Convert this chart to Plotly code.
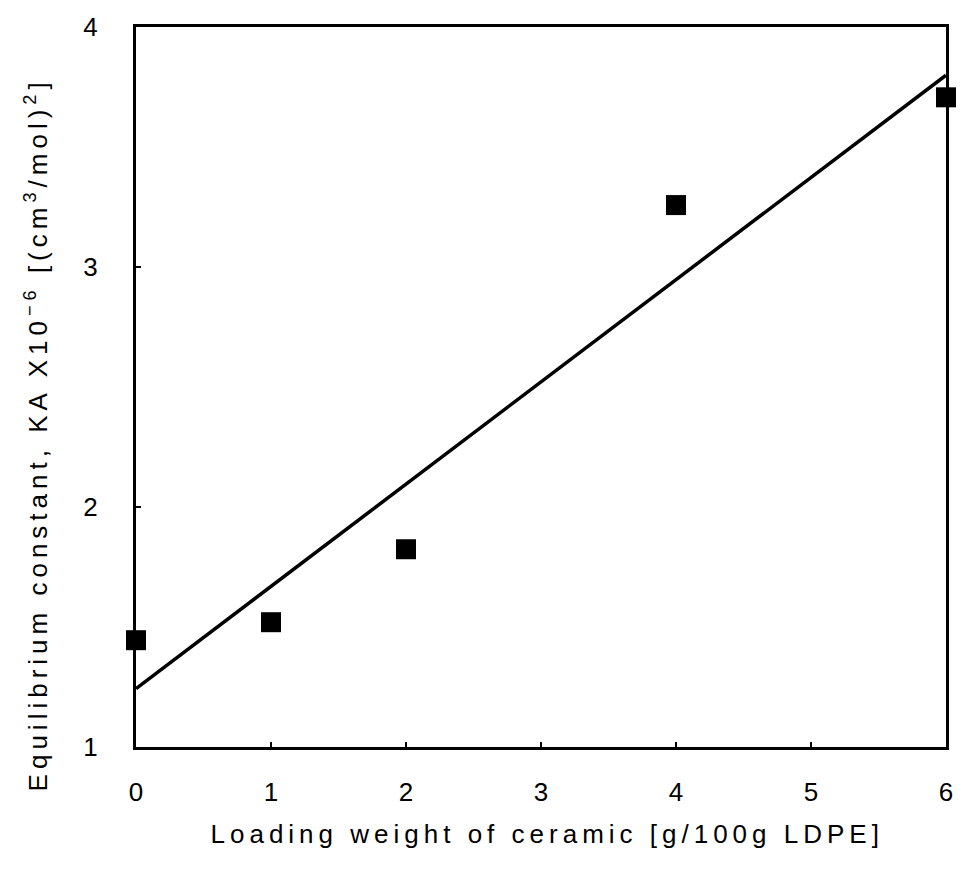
import numpy as np
import plotly.graph_objects as go

# Equilibrium constant vs. ceramic loading in LDPE
loading = [0, 1, 2, 4, 6]                  # g ceramic / 100 g LDPE
ka = [1.445, 1.52, 1.824, 3.258, 3.707]    # KA x 10^-6 [(cm3/mol)^2]

x_ticks = [0, 1, 2, 3, 4, 5, 6]
y_ticks = [1, 2, 3, 4]

# least-squares trend line through the measured points
slope, intercept = np.polyfit(loading, ka, 1)
fit_x = [min(x_ticks), max(x_ticks)]
fit_y = [intercept + slope * v for v in fit_x]

FONT = "Liberation Sans, Arial, sans-serif"

fig = go.Figure()
fig.add_trace(go.Scatter(
    x=fit_x, y=fit_y, mode="lines",
    line=dict(color="black", width=3.5),
    showlegend=False, cliponaxis=False,
))
fig.add_trace(go.Scatter(
    x=loading, y=ka, mode="markers",
    marker=dict(symbol="square", size=20, color="black", line=dict(width=0)),
    showlegend=False, cliponaxis=False,
))

axis_common = dict(
    showgrid=False, zeroline=False,
    showline=True, linecolor="black", linewidth=3, mirror=True,
    ticks="inside", ticklen=5, tickwidth=1.5, tickcolor="black",
    tickfont=dict(family=FONT, size=26, color="black"),
)

fig.update_xaxes(range=[0, 6], tickvals=x_ticks, ticklabelstandoff=20, **axis_common)
fig.update_yaxes(range=[1, 4], tickvals=y_ticks, ticklabelstandoff=30, **axis_common)

fig.add_annotation(
    text="Loading weight of ceramic [g/100g LDPE]",
    xref="paper", yref="paper", x=0.508, y=-0.121,
    xanchor="center", yanchor="middle", showarrow=False,
    font=dict(family=FONT, size=26, color="black"),
)
fig.add_annotation(
    text="Equilibrium constant, KA X10<sup>\u22126</sup> [(cm<sup>3</sup>/mol)<sup>2</sup>]",
    xref="paper", yref="paper", x=-0.123, y=0.434,
    xanchor="center", yanchor="middle", showarrow=False, textangle=-90,
    font=dict(family=FONT, size=26, color="black"),
)

fig.update_layout(
    width=965, height=874,
    margin=dict(l=136, r=16, t=19, b=127),
    paper_bgcolor="white", plot_bgcolor="white",
)

# widen the tracking of the axis titles
spacing_js = (
    "document.querySelectorAll('.annotation-text').forEach(function(e){"
    "e.style.letterSpacing='5px';});"
)
fig.write_html("out.html", post_script=spacing_js)
